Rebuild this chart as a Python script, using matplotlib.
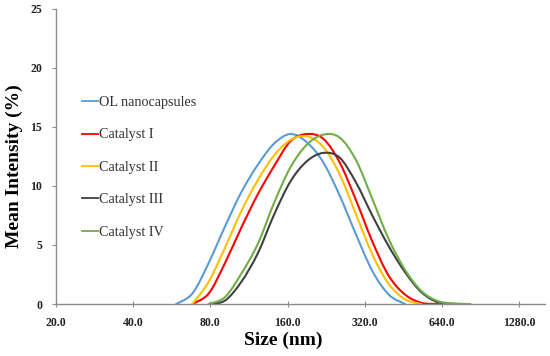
import matplotlib
matplotlib.use("Agg")
import matplotlib.pyplot as plt
from matplotlib.path import Path
from matplotlib.patches import PathPatch
from matplotlib.lines import Line2D
import numpy as np

# size bins (nm) of the DLS instrument
bins = [58.77, 68.06, 78.82, 91.28, 105.7, 122.4, 141.8, 164.2, 190.1, 220.2,
        255.0, 295.3, 342.0, 396.1, 458.7, 531.2, 615.1, 712.4, 825.0]

labels = ["OL nanocapsules", "Catalyst I", "Catalyst II", "Catalyst III", "Catalyst IV"]
colors = ["#5B9BD5", "#FF0000", "#FFC000", "#404040", "#70AD47"]

# intensity (%) per bin, starting at the given bin index
ol_start = 0
ol_vals = [0, 0.9, 3.5, 6.6, 9.5, 11.8, 13.6, 14.4, 13.7, 12.0, 9.2, 5.9, 2.8, 0.8, 0]
cat1_start = 1
cat1_vals = [0, 0.9, 3.5, 6.5, 9.3, 11.7, 13.8, 14.4, 14.0, 12.0, 8.8, 5.3, 2.4, 0.8, 0.1, 0]
cat2_start = 1
cat2_vals = [0, 1.9, 4.8, 7.9, 10.5, 12.6, 13.9, 14.2, 13.3, 11.0, 7.6, 4.2, 1.7, 0.4, 0]
cat3_start = 2
cat3_vals = [0, 0.3, 1.9, 4.3, 7.6, 10.4, 12.1, 12.8, 12.4, 10.3, 7.5, 4.9, 2.7, 1.0, 0.15, 0]
cat4_start = 2
cat4_vals = [0, 0.6, 2.6, 5.1, 8.6, 11.6, 13.5, 14.35, 14.1, 12.2, 8.9, 5.5, 2.9, 1.1, 0.25, 0.05, 0]

series = [(ol_start, ol_vals), (cat1_start, cat1_vals), (cat2_start, cat2_vals),
          (cat3_start, cat3_vals), (cat4_start, cat4_vals)]

xticks = [20, 40, 80, 160, 320, 640, 1280]


def smooth_path(xs, ys):
    # Bezier (Excel-like smoothed line) through the points, in log2(x) space
    lx = np.log2(xs)
    pts = np.column_stack([lx, ys])
    n = len(pts)
    verts = [pts[0]]
    codes = [Path.MOVETO]
    for i in range(n - 1):
        p0 = pts[max(i - 1, 0)]
        p1 = pts[i]
        p2 = pts[i + 1]
        p3 = pts[min(i + 2, n - 1)]
        c1 = p1 + (p2 - p0) / 6.0
        c2 = p2 - (p3 - p1) / 6.0
        verts += [c1, c2, p2]
        codes += [Path.CURVE4] * 3
    verts = np.array(verts)
    verts[:, 0] = 2.0 ** verts[:, 0]
    return Path(verts, codes)


fig = plt.figure(figsize=(5.5, 3.56), dpi=100)
ax = fig.add_axes([0.1018, 0.146, 0.889, 0.829])

serif = ["Liberation Serif", "DejaVu Serif"]

handles = []
for (start, vals), lab, col in zip(series, labels, colors):
    xs = np.array(bins[start:start + len(vals)])
    ys = np.array(vals, dtype=float)
    patch = PathPatch(smooth_path(xs, ys), facecolor="none", edgecolor=col,
                      lw=1.5, transform=ax.transData, capstyle="round")
    ax.add_patch(patch)
    handles.append(Line2D([], [], color=col, lw=1.3))

ax.set_xscale("log", base=2)
ax.set_xlim(20, 1610)
ax.set_ylim(0, 25)
ax.set_xticks(xticks)
ax.set_xticklabels([f"{t:.1f}" for t in xticks])
ax.minorticks_off()
ax.set_yticks([0, 5, 10, 15, 20, 25])

for s in ["top", "right"]:
    ax.spines[s].set_visible(False)
for s in ["left", "bottom"]:
    ax.spines[s].set_color("#8c8c8c")
    ax.spines[s].set_linewidth(1.0)

ax.tick_params(axis="x", direction="inout", length=5, color="#8c8c8c", pad=7)
ax.tick_params(axis="y", direction="out", length=3, color="#8c8c8c", pad=7)
for t in ax.get_xticklabels() + ax.get_yticklabels():
    t.set_fontfamily(serif)
    t.set_fontweight("bold")
    t.set_fontsize(8.5)
    t.set_color("#222222")

ax.set_xlabel("Size (nm)", fontfamily=serif, fontweight="bold", fontsize=14)
ax.xaxis.set_label_coords(0.464, -0.093)
ax.set_ylabel("Mean Intensity (%)", fontfamily=serif, fontweight="bold", fontsize=14)
ax.yaxis.set_label_coords(-0.068, 0.466)

leg = ax.legend(handles, labels, loc="upper left", bbox_to_anchor=(75 / 550, 1 - 89 / 356),
                bbox_transform=fig.transFigure, frameon=False, borderpad=0,
                handlelength=1.13, handletextpad=0.05, labelspacing=1.37,
                prop={"family": serif, "size": 10.2})
for t in leg.get_texts():
    t.set_color("#333333")

fig.savefig("out.png", dpi=100)
